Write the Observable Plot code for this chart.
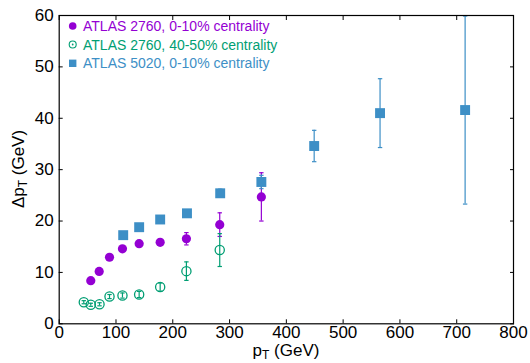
<!DOCTYPE html>
<html><head><meta charset="utf-8">
<script src="https://cdn.jsdelivr.net/npm/d3@7"></script>
<script src="https://cdn.jsdelivr.net/npm/@observablehq/plot@0.6"></script>
<style>body{margin:0;background:#fff} svg{font-family:"Liberation Sans",Arial,sans-serif}</style>
</head><body><div id="chart"></div>
<script>
// ATLAS 2760, 0-10% centrality
const pt2760c  = [55.6, 70.4, 88.6, 111.4, 140.8, 177.8, 224, 282.7, 356];
const dpt2760c = [8.4, 10.2, 12.95, 14.6, 15.6, 15.85, 16.55, 19.3, 24.7];
const err2760c = [0.3, 0.3, 0.3, 0.3, 0.4, 0.4, 1.2, 2.3, 4.7];
// ATLAS 2760, 40-50% centrality
const pt2760p  = [43.3, 55.6, 71, 88.6, 111.4, 140.8, 177.8, 224, 282.7];
const dpt2760p = [4.2, 3.7, 3.8, 5.3, 5.5, 5.7, 7.15, 10.25, 14.35];
const err2760p = [0.3, 0.3, 0.3, 0.4, 0.5, 0.6, 0.8, 1.8, 3.2];
// ATLAS 5020, 0-10% centrality
const pt5020  = [112.7, 140.8, 177.8, 225, 283.5, 356, 449, 565, 714.8];
const dpt5020 = [17.25, 18.8, 20.3, 21.5, 25.4, 27.6, 34.6, 41.0, 41.6];
const err5020 = [0.4, 0.5, 0.5, 0.6, 0.8, 1.3, 3.05, 6.7, 18.3];

const xTicks = [0, 100, 200, 300, 400, 500, 600, 700, 800];
const yTicks = [0, 10, 20, 30, 40, 50, 60];
const seriesNames = ["ATLAS 2760, 0-10% centrality", "ATLAS 2760, 40-50% centrality", "ATLAS 5020, 0-10% centrality"];
const colors = ["#9400d3", "#009e73", "#3d8fc6"];

const toRows = (xs, ys, es) => xs.map((x, i) => ({x, y: ys[i], e: es[i]}));
const sC = toRows(pt2760c, dpt2760c, err2760c);
const sP = toRows(pt2760p, dpt2760p, err2760p);
const s5 = toRows(pt5020, dpt5020, err5020);

const dash = {draw(ctx, size) { const w = Math.sqrt(size / Math.PI); ctx.moveTo(-w, 0); ctx.lineTo(w, 0); }};

function errMarks(rows, color) {
  const caps = rows.flatMap(d => [{x: d.x, y: d.y + d.e}, {x: d.x, y: d.y - d.e}]);
  return [
    Plot.ruleX(rows, {x: "x", y1: d => d.y - d.e, y2: d => d.y + d.e, stroke: color, strokeWidth: 1.2, clip: true}),
    Plot.dot(caps, {x: "x", y: "y", symbol: dash, r: 2.2, stroke: color, strokeWidth: 1.2, fill: "none"})
  ];
}

const plot = Plot.plot({
  width: 530, height: 363,
  marginLeft: 58.7, marginRight: 17, marginTop: 15, marginBottom: 39.7,
  style: {fontFamily: "Liberation Sans, Arial, sans-serif", fontSize: "17px", color: "#000", background: "#fff"},
  x: {domain: [0, 800]},
  y: {domain: [0, 60]},
  marks: [
    Plot.axisX(xTicks, {tickSize: 0, tickPadding: 2.5, label: null, fontSize: 17}),
    Plot.axisX(xTicks, {tickSize: -4, tickFormat: () => "", label: null}),
    Plot.axisX(xTicks, {anchor: "top", tickSize: -4, tickFormat: () => "", label: null}),
    Plot.axisY(yTicks, {tickSize: 0, tickPadding: 5.5, label: null, fontSize: 17}),
    Plot.axisY(yTicks, {tickSize: -4, tickFormat: () => "", label: null}),
    Plot.axisY(yTicks, {anchor: "right", tickSize: -4, tickFormat: () => "", label: null}),
    ...errMarks(sC, colors[0]),
    ...errMarks(sP, colors[1]),
    ...errMarks(s5, colors[2]),
    Plot.dot(sP, {x: "x", y: "y", r: 4.6, stroke: colors[1], strokeWidth: 1.3, fill: "none"}),
    Plot.dot(sC, {x: "x", y: "y", r: 4.6, fill: colors[0], stroke: "none"}),
    Plot.dot(s5, {x: "x", y: "y", symbol: "square", r: 5.6, fill: colors[2], stroke: "none"}),
    Plot.frame({stroke: "#000", strokeWidth: 1.2})
  ]
});
document.getElementById("chart").appendChild(plot);

const svg = d3.select(plot);
// axis titles with subscripts
const xt = svg.append("text").attr("x", 286).attr("y", 356).attr("text-anchor", "middle")
  .attr("font-size", 17).attr("fill", "#000");
xt.append("tspan").text("p");
xt.append("tspan").attr("font-size", 12).attr("dy", 2.5).text("T");
xt.append("tspan").attr("dy", -2.5).text(" (GeV)");

const yt = svg.append("text").attr("transform", "translate(24,169) rotate(-90)").attr("text-anchor", "middle")
  .attr("font-size", 17).attr("fill", "#000");
yt.append("tspan").text("Δp");
yt.append("tspan").attr("font-size", 12).attr("dy", 3).text("T");
yt.append("tspan").attr("dy", -3).text(" (GeV)");

// legend
const lg = svg.append("g").attr("text-anchor", "start");
const rowsY = [26, 44.5, 63.3];
lg.append("circle").attr("cx", 72.7).attr("cy", rowsY[0]).attr("r", 3.8).attr("fill", colors[0]);
lg.append("circle").attr("cx", 72.7).attr("cy", rowsY[1]).attr("r", 3.5).attr("fill", "none").attr("stroke", colors[1]).attr("stroke-width", 1.1);
lg.append("circle").attr("cx", 72.7).attr("cy", rowsY[1]).attr("r", 0.9).attr("fill", colors[1]);
lg.append("rect").attr("x", 69).attr("y", rowsY[2] - 3.7).attr("width", 7.4).attr("height", 7.4).attr("fill", colors[2]);
seriesNames.forEach((name, i) => {
  lg.append("text").attr("x", 83).attr("y", rowsY[i] + 5).attr("text-anchor", "start")
    .attr("font-size", 14).attr("fill", colors[i]).text(name);
});
</script>
</body></html>
